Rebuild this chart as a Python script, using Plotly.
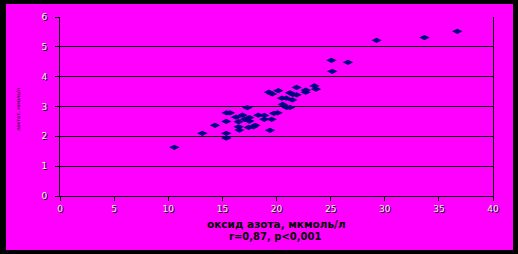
import plotly.graph_objects as go

# data
x_vals = [10.56, 13.15, 14.32, 15.36, 15.36, 15.36, 15.4, 15.7, 16.26, 16.5,
          16.5, 16.57, 16.85, 17.3, 17.09, 17.49, 17.49, 17.43, 17.86, 18.04,
          18.32, 18.87, 18.87, 19.4, 19.55, 19.77, 20.1, 20.17, 19.3, 19.6,
          20.57, 20.5, 20.9, 20.94, 21.25, 21.25, 21.46, 21.86, 21.86, 21.5,
          22.7, 22.7, 23.5, 23.65, 25.07, 26.6, 25.15, 29.25, 33.67, 36.7]
y_vals = [1.63, 2.10, 2.37, 2.50, 2.10, 1.94, 2.79, 2.79, 2.64, 2.49,
          2.32, 2.21, 2.71, 2.96, 2.57, 2.63, 2.51, 2.30, 2.32, 2.37,
          2.71, 2.70, 2.57, 2.20, 2.57, 2.77, 2.79, 3.53, 3.48, 3.42,
          3.07, 3.28, 3.28, 2.97, 2.97, 3.46, 3.22, 3.64, 3.39, 3.41,
          3.55, 3.48, 3.69, 3.58, 4.55, 4.48, 4.18, 5.22, 5.31, 5.52]
x_ticks = [0, 5, 10, 15, 20, 25, 30, 35, 40]
y_ticks = [0, 1, 2, 3, 4, 5, 6]
x_title = "оксид азота, мкмоль/л"
stat_text = "r=0,87, p<0,001"
y_title = "лактат, ммоль/л"

W, H = 518, 254
L, R, T, B = 60, 25, 17, 58
pw, ph = W - L - R, H - T - B


def px(p):
    return (p - L) / pw


def py(p):
    return 1 - (p - T) / ph


fig = go.Figure()
fig.add_trace(go.Scatter(
    x=x_vals, y=y_vals, mode="markers",
    marker=dict(symbol="diamond-wide", size=7.5, color="#000080",
                line=dict(width=0)),
    hoverinfo="skip", showlegend=False))

tickfont = dict(family="DejaVu Sans", size=9, color="#f4f4f4",
                shadow="1px 1px 0px #000")

fig.update_layout(
    width=W, height=H,
    margin=dict(l=L, r=R, t=T, b=B, pad=0),
    paper_bgcolor="black",
    plot_bgcolor="#FF00FF",
    showlegend=False,
    xaxis=dict(range=[0, 40], tickvals=x_ticks, showgrid=False, zeroline=False,
               showline=True, linecolor="black", linewidth=1,
               ticks="outside", ticklen=4, tickcolor="black", tickwidth=1,
               tickfont=tickfont, fixedrange=True),
    yaxis=dict(range=[0, 6], tickvals=y_ticks, showgrid=True, gridcolor="black",
               gridwidth=1, zeroline=False, showline=True, mirror=True,
               linecolor="black", linewidth=1,
               ticks="outside", ticklen=4, tickcolor="black", tickwidth=1,
               ticklabelstandoff=6,
               tickfont=tickfont, fixedrange=True),
    shapes=[dict(type="rect", xref="paper", yref="paper", layer="below",
                 x0=px(6), x1=px(513), y0=py(250), y1=py(4),
                 fillcolor="#FF00FF", line=dict(width=0))],
    annotations=[
        dict(text="<b>" + x_title + "</b>", xref="paper", yref="paper",
             x=px(276), y=py(224), showarrow=False, xanchor="center",
             yanchor="middle",
             font=dict(family="DejaVu Sans", size=10.5, color="black")),
        dict(text="<b>" + stat_text + "</b>", xref="paper", yref="paper",
             x=px(275), y=py(236.5), showarrow=False, xanchor="center",
             yanchor="middle",
             font=dict(family="DejaVu Sans", size=10, color="black")),
        dict(text=y_title, xref="paper", yref="paper", textangle=-90,
             x=px(18), y=py(110), showarrow=False, xanchor="center",
             yanchor="middle",
             font=dict(family="DejaVu Sans", size=5, color="black")),
    ],
)

fig.write_html("out.html")
